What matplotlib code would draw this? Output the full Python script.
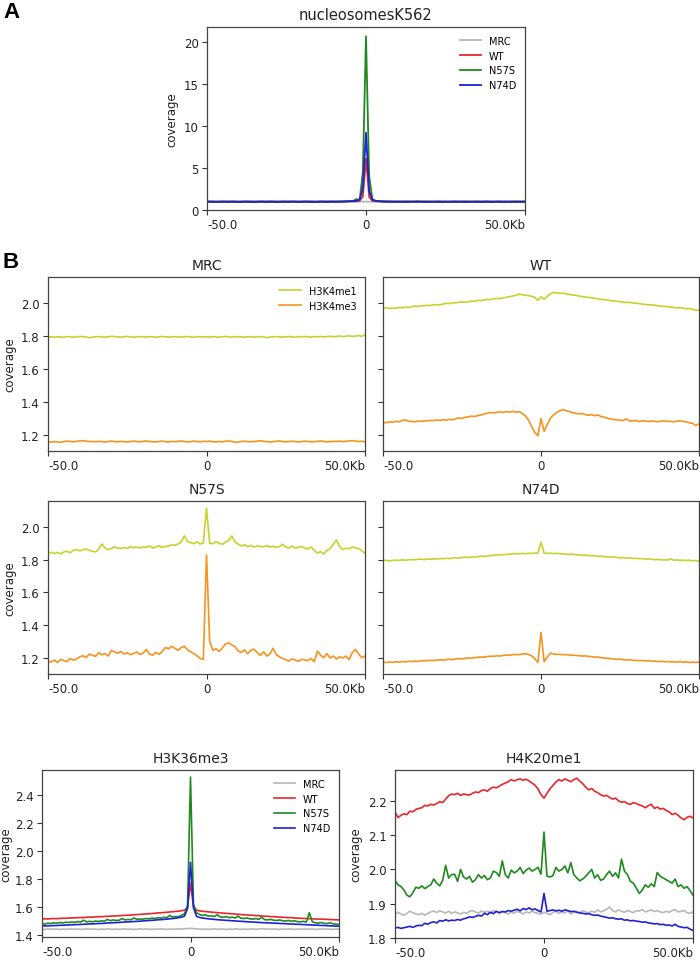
import numpy as np
import matplotlib
matplotlib.use("Agg")
import matplotlib.pyplot as plt

# ---- data: coverage profiles, one value per 1 kb bin from -50 to +50 kb ----
tick_pos = [-50, 0, 50]
tick_labels = ["-50.0", "0", "50.0Kb"]

samples = ["MRC", "WT", "N57S", "N74D"]
marks_b = ["H3K4me1", "H3K4me3"]

# panel A: nucleosomes K562
nuc_mrc = [0.99, 0.98, 0.99, 1.00, 0.99, 0.98, 0.99, 0.99, 1.00, 0.99,
           0.98, 0.99, 1.00, 0.99, 0.98, 0.99, 0.99, 1.00, 0.99, 0.98,
           0.99, 1.00, 0.99, 0.98, 0.99, 0.99, 1.00, 0.99, 0.98, 0.99,
           0.99, 1.00, 0.99, 0.98, 0.99, 0.99, 1.00, 0.99, 0.98, 0.99,
           1.00, 0.99, 0.98, 0.99, 0.99, 1.00, 0.99, 0.98, 0.99, 1.00,
           1.00,
           0.99, 0.98, 0.99, 1.00, 0.99, 0.98, 0.99, 0.99, 1.00, 0.99,
           0.98, 0.99, 1.00, 0.99, 0.98, 0.99, 0.99, 1.00, 0.99, 0.98,
           0.99, 1.00, 0.99, 0.98, 0.99, 0.99, 1.00, 0.99, 0.98, 0.99,
           0.99, 1.00, 0.99, 0.98, 0.99, 0.99, 1.00, 0.99, 0.98, 0.99,
           1.00, 0.99, 0.98, 0.99, 0.99, 1.00, 0.99, 0.98, 0.99, 1.00]
nuc_wt = [1.01, 1.02, 1.01, 1.00, 1.01, 1.02, 1.01, 1.01, 1.02, 1.01,
          1.00, 1.01, 1.02, 1.01, 1.01, 1.00, 1.01, 1.02, 1.01, 1.01,
          1.02, 1.01, 1.00, 1.01, 1.02, 1.01, 1.01, 1.02, 1.01, 1.00,
          1.01, 1.02, 1.01, 1.01, 1.00, 1.01, 1.02, 1.01, 1.01, 1.02,
          1.01, 1.00, 1.01, 1.02, 1.01, 1.02, 1.03, 1.05, 1.10, 1.60,
          6.10,
          1.55, 1.10, 1.05, 1.03, 1.02, 1.01, 1.02, 1.01, 1.00, 1.01,
          1.02, 1.01, 1.01, 1.00, 1.01, 1.02, 1.01, 1.01, 1.02, 1.01,
          1.00, 1.01, 1.02, 1.01, 1.01, 1.00, 1.01, 1.02, 1.01, 1.01,
          1.02, 1.01, 1.00, 1.01, 1.02, 1.01, 1.01, 1.02, 1.01, 1.00,
          1.01, 1.02, 1.01, 1.01, 1.00, 1.01, 1.02, 1.01, 1.01, 1.02]
nuc_n57s = [1.00, 1.01, 1.00, 0.99, 1.00, 1.01, 1.00, 1.00, 1.01, 1.00,
            0.99, 1.00, 1.01, 1.00, 1.00, 0.99, 1.00, 1.01, 1.00, 1.00,
            1.01, 1.00, 0.99, 1.00, 1.01, 1.00, 1.00, 1.01, 1.00, 0.99,
            1.00, 1.01, 1.00, 1.00, 0.99, 1.00, 1.01, 1.00, 1.00, 1.01,
            1.00, 1.01, 1.02, 1.03, 1.05, 1.08, 1.10, 1.30, 1.20, 4.50,
            20.70,
            4.00, 1.30, 1.10, 1.05, 1.03, 1.02, 1.01, 1.00, 1.01, 1.00,
            1.00, 1.01, 1.02, 1.00, 1.01, 1.05, 1.00, 1.00, 1.01, 1.00,
            0.99, 1.00, 1.01, 1.00, 1.00, 0.99, 1.00, 1.01, 1.00, 1.00,
            1.01, 1.00, 0.99, 1.00, 1.01, 1.00, 1.00, 1.01, 1.00, 0.99,
            1.00, 1.01, 1.00, 1.00, 0.99, 1.00, 1.01, 1.00, 1.00, 1.01]
nuc_n74d = [0.97, 0.98, 0.97, 0.96, 0.97, 0.98, 0.97, 0.97, 0.98, 0.97,
            0.96, 0.97, 0.98, 0.97, 0.97, 0.96, 0.97, 0.98, 0.97, 0.97,
            0.98, 0.97, 0.96, 0.97, 0.98, 0.97, 0.97, 0.98, 0.97, 0.96,
            0.97, 0.98, 0.97, 0.97, 0.96, 0.97, 0.98, 0.97, 0.97, 0.98,
            0.97, 0.98, 0.99, 1.00, 1.02, 1.04, 1.06, 1.10, 1.20, 2.60,
            9.20,
            2.30, 1.20, 1.08, 1.04, 1.02, 1.00, 0.99, 0.98, 0.97, 0.98,
            0.97, 0.96, 0.97, 0.98, 0.97, 0.97, 0.98, 0.97, 0.96, 0.97,
            0.98, 0.97, 0.97, 0.96, 0.97, 0.98, 0.97, 0.97, 0.98, 0.97,
            0.96, 0.97, 0.98, 0.97, 0.97, 0.96, 0.97, 0.98, 0.97, 0.97,
            0.98, 0.97, 0.96, 0.97, 0.98, 0.97, 0.97, 0.98, 0.97, 0.96]

# panel B: H3K4me1 / H3K4me3 per sample
mrc_me1 = [1.797, 1.795, 1.793, 1.796, 1.794, 1.792, 1.797, 1.796, 1.794, 1.795,
           1.798, 1.796, 1.795, 1.790, 1.794, 1.796, 1.797, 1.795, 1.793, 1.796,
           1.799, 1.797, 1.795, 1.794, 1.796, 1.798, 1.796, 1.793, 1.795, 1.797,
           1.796, 1.794, 1.797, 1.795, 1.793, 1.796, 1.798, 1.796, 1.794, 1.795,
           1.797, 1.795, 1.794, 1.796, 1.798, 1.795, 1.793, 1.796, 1.797, 1.795,
           1.796,
           1.794, 1.797, 1.795, 1.793, 1.796, 1.798, 1.795, 1.794, 1.797, 1.796,
           1.795, 1.793, 1.797, 1.796, 1.794, 1.795, 1.797, 1.796, 1.790, 1.794,
           1.796, 1.797, 1.795, 1.794, 1.796, 1.798, 1.795, 1.793, 1.797, 1.796,
           1.798, 1.795, 1.794, 1.797, 1.796, 1.798, 1.795, 1.797, 1.799, 1.796,
           1.798, 1.801, 1.797, 1.799, 1.802, 1.798, 1.800, 1.803, 1.799, 1.808]
mrc_me3 = [1.156, 1.154, 1.157, 1.155, 1.153, 1.158, 1.160, 1.158, 1.156, 1.159,
           1.161, 1.163, 1.160, 1.157, 1.158, 1.156, 1.159, 1.157, 1.155, 1.158,
           1.160, 1.158, 1.156, 1.159, 1.157, 1.155, 1.158, 1.160, 1.158, 1.156,
           1.159, 1.161, 1.158, 1.156, 1.155, 1.158, 1.160, 1.157, 1.155, 1.158,
           1.157, 1.159, 1.161, 1.158, 1.155, 1.157, 1.160, 1.158, 1.156, 1.159,
           1.158,
           1.160, 1.157, 1.155, 1.158, 1.156, 1.159, 1.161, 1.159, 1.152, 1.155,
           1.158, 1.160, 1.157, 1.156, 1.158, 1.160, 1.162, 1.159, 1.157, 1.155,
           1.157, 1.159, 1.161, 1.158, 1.156, 1.158, 1.160, 1.157, 1.155, 1.158,
           1.160, 1.158, 1.156, 1.157, 1.159, 1.161, 1.158, 1.156, 1.157, 1.159,
           1.158, 1.160, 1.157, 1.159, 1.161, 1.163, 1.160, 1.158, 1.159, 1.157]
wt_me1 = [1.970, 1.972, 1.968, 1.971, 1.969, 1.975, 1.973, 1.976, 1.974, 1.978,
          1.983, 1.981, 1.985, 1.984, 1.988, 1.986, 1.990, 1.992, 1.990, 1.995,
          2.000, 1.998, 2.003, 2.002, 2.006, 2.008, 2.006, 2.010, 2.013, 2.011,
          2.018, 2.016, 2.020, 2.024, 2.022, 2.027, 2.030, 2.028, 2.033, 2.036,
          2.040, 2.044, 2.048, 2.056, 2.052, 2.050, 2.046, 2.043, 2.036, 2.018,
          2.040,
          2.024, 2.042, 2.058, 2.066, 2.063, 2.060, 2.062, 2.057, 2.054, 2.050,
          2.048, 2.044, 2.041, 2.038, 2.036, 2.033, 2.030, 2.027, 2.024, 2.022,
          2.019, 2.016, 2.014, 2.012, 2.010, 2.007, 2.005, 2.006, 2.002, 2.000,
          1.998, 1.995, 1.993, 1.990, 1.991, 1.988, 1.985, 1.983, 1.981, 1.979,
          1.977, 1.975, 1.972, 1.974, 1.970, 1.966, 1.968, 1.963, 1.957, 1.958]
wt_me3 = [1.275, 1.272, 1.277, 1.276, 1.280, 1.278, 1.285, 1.290, 1.282, 1.280,
          1.278, 1.282, 1.280, 1.284, 1.283, 1.287, 1.285, 1.289, 1.286, 1.291,
          1.288, 1.293, 1.290, 1.296, 1.302, 1.298, 1.305, 1.308, 1.312, 1.310,
          1.316, 1.320, 1.325, 1.330, 1.334, 1.332, 1.336, 1.338, 1.335, 1.340,
          1.337, 1.342, 1.336, 1.340, 1.330, 1.315, 1.290, 1.250, 1.215, 1.192,
          1.298,
          1.220, 1.262, 1.300, 1.320, 1.335, 1.345, 1.352, 1.345, 1.340, 1.333,
          1.330, 1.326, 1.328, 1.322, 1.318, 1.322, 1.315, 1.320, 1.310, 1.306,
          1.300, 1.295, 1.292, 1.290, 1.288, 1.286, 1.295, 1.283, 1.284, 1.286,
          1.280, 1.284, 1.282, 1.279, 1.283, 1.281, 1.278, 1.282, 1.284, 1.280,
          1.281, 1.278, 1.282, 1.284, 1.280, 1.277, 1.272, 1.268, 1.255, 1.266]
n57s_me1 = [1.842, 1.846, 1.838, 1.845, 1.836, 1.848, 1.852, 1.843, 1.858, 1.862,
            1.855, 1.860, 1.866, 1.858, 1.852, 1.848, 1.865, 1.897, 1.872, 1.862,
            1.870, 1.878, 1.872, 1.868, 1.875, 1.869, 1.882, 1.874, 1.878, 1.871,
            1.880, 1.876, 1.885, 1.872, 1.878, 1.887, 1.875, 1.881, 1.884, 1.892,
            1.888, 1.896, 1.908, 1.946, 1.912, 1.905, 1.898, 1.910, 1.896, 1.904,
            2.116,
            1.902, 1.898, 1.912, 1.900, 1.895, 1.908, 1.918, 1.946, 1.910, 1.896,
            1.885, 1.892, 1.880, 1.888, 1.878, 1.885, 1.882, 1.880, 1.886, 1.878,
            1.883, 1.876, 1.880, 1.895, 1.878, 1.872, 1.884, 1.870, 1.878, 1.880,
            1.872, 1.866, 1.878, 1.858, 1.840, 1.850, 1.835, 1.858, 1.868, 1.895,
            1.922, 1.880, 1.862, 1.870, 1.868, 1.878, 1.872, 1.868, 1.856, 1.838]
n57s_me3 = [1.178, 1.174, 1.185, 1.170, 1.190, 1.182, 1.176, 1.195, 1.185, 1.192,
            1.205, 1.212, 1.200, 1.222, 1.215, 1.208, 1.230, 1.218, 1.225, 1.210,
            1.245, 1.235, 1.228, 1.238, 1.222, 1.230, 1.218, 1.226, 1.235, 1.220,
            1.228, 1.250, 1.222, 1.215, 1.232, 1.220, 1.238, 1.262, 1.255, 1.270,
            1.258, 1.245, 1.262, 1.270, 1.248, 1.236, 1.225, 1.212, 1.195, 1.190,
            1.830,
            1.300, 1.245, 1.255, 1.238, 1.260, 1.285, 1.290, 1.278, 1.268, 1.240,
            1.232, 1.248, 1.225, 1.245, 1.252, 1.230, 1.215, 1.236, 1.210, 1.222,
            1.258, 1.220, 1.205, 1.195, 1.188, 1.180, 1.192, 1.185, 1.178, 1.190,
            1.186, 1.182, 1.195, 1.175, 1.240, 1.215, 1.200, 1.225, 1.198, 1.210,
            1.192, 1.205, 1.198, 1.210, 1.188, 1.232, 1.250, 1.222, 1.200, 1.210]
n74d_me1 = [1.795, 1.797, 1.792, 1.796, 1.798, 1.795, 1.800, 1.797, 1.799, 1.801,
            1.800, 1.802, 1.804, 1.801, 1.805, 1.803, 1.806, 1.804, 1.808, 1.806,
            1.809, 1.807, 1.811, 1.813, 1.810, 1.814, 1.816, 1.813, 1.818, 1.816,
            1.819, 1.822, 1.820, 1.823, 1.825, 1.827, 1.829, 1.831, 1.830, 1.833,
            1.834, 1.836, 1.838, 1.836, 1.839, 1.837, 1.840, 1.838, 1.841, 1.839,
            1.908,
            1.841, 1.839, 1.840, 1.838, 1.839, 1.837, 1.836, 1.834, 1.833, 1.834,
            1.831, 1.830, 1.827, 1.828, 1.825, 1.826, 1.823, 1.821, 1.822, 1.819,
            1.818, 1.816, 1.817, 1.814, 1.812, 1.813, 1.810, 1.811, 1.808, 1.809,
            1.806, 1.807, 1.804, 1.805, 1.803, 1.800, 1.802, 1.799, 1.800, 1.798,
            1.806, 1.797, 1.799, 1.796, 1.798, 1.795, 1.797, 1.793, 1.796, 1.790]
n74d_me3 = [1.172, 1.170, 1.174, 1.171, 1.175, 1.173, 1.176, 1.174, 1.178, 1.176,
            1.179, 1.177, 1.180, 1.182, 1.181, 1.184, 1.182, 1.185, 1.187, 1.185,
            1.188, 1.190, 1.188, 1.192, 1.194, 1.193, 1.196, 1.198, 1.196, 1.200,
            1.202, 1.204, 1.203, 1.207, 1.209, 1.208, 1.212, 1.210, 1.214, 1.216,
            1.215, 1.218, 1.220, 1.218, 1.222, 1.224, 1.220, 1.212, 1.195, 1.170,
            1.355,
            1.175, 1.205, 1.228, 1.222, 1.220, 1.221, 1.218, 1.219, 1.216, 1.215,
            1.214, 1.212, 1.210, 1.211, 1.208, 1.206, 1.203, 1.204, 1.200, 1.198,
            1.196, 1.195, 1.192, 1.190, 1.191, 1.188, 1.186, 1.187, 1.184, 1.183,
            1.182, 1.183, 1.180, 1.181, 1.178, 1.179, 1.177, 1.178, 1.175, 1.176,
            1.174, 1.175, 1.173, 1.176, 1.172, 1.174, 1.171, 1.173, 1.170, 1.174]

# H3K36me3
k36_mrc = [1.442, 1.440, 1.443, 1.441, 1.444, 1.442, 1.440, 1.443, 1.441, 1.442,
           1.444, 1.441, 1.443, 1.440, 1.442, 1.444, 1.441, 1.443, 1.442, 1.440,
           1.443, 1.441, 1.444, 1.442, 1.440, 1.443, 1.441, 1.442, 1.444, 1.441,
           1.443, 1.440, 1.442, 1.444, 1.441, 1.443, 1.442, 1.440, 1.443, 1.441,
           1.444, 1.442, 1.440, 1.443, 1.441, 1.442, 1.444, 1.443, 1.445, 1.446,
           1.448,
           1.446, 1.444, 1.442, 1.441, 1.443, 1.440, 1.442, 1.444, 1.441, 1.443,
           1.442, 1.440, 1.443, 1.441, 1.444, 1.442, 1.440, 1.443, 1.441, 1.442,
           1.444, 1.441, 1.443, 1.446, 1.442, 1.444, 1.441, 1.443, 1.442, 1.440,
           1.443, 1.441, 1.444, 1.442, 1.440, 1.443, 1.441, 1.442, 1.444, 1.441,
           1.443, 1.440, 1.442, 1.444, 1.441, 1.443, 1.442, 1.440, 1.443, 1.441]
k36_wt = [1.515, 1.516, 1.515, 1.517, 1.518, 1.517, 1.519, 1.520, 1.520, 1.522,
          1.522, 1.523, 1.524, 1.525, 1.525, 1.527, 1.528, 1.528, 1.530, 1.531,
          1.531, 1.533, 1.534, 1.535, 1.536, 1.537, 1.538, 1.540, 1.541, 1.542,
          1.543, 1.545, 1.546, 1.548, 1.549, 1.551, 1.552, 1.554, 1.556, 1.558,
          1.559, 1.561, 1.563, 1.565, 1.567, 1.569, 1.571, 1.574, 1.578, 1.600,
          1.770,
          1.605, 1.578, 1.573, 1.570, 1.568, 1.566, 1.564, 1.562, 1.560, 1.558,
          1.557, 1.555, 1.553, 1.552, 1.550, 1.548, 1.547, 1.545, 1.544, 1.542,
          1.541, 1.539, 1.538, 1.536, 1.535, 1.534, 1.532, 1.531, 1.530, 1.528,
          1.527, 1.526, 1.525, 1.524, 1.522, 1.521, 1.520, 1.519, 1.518, 1.517,
          1.516, 1.515, 1.514, 1.514, 1.513, 1.512, 1.511, 1.510, 1.509, 1.508]
k36_n57s = [1.483, 1.478, 1.485, 1.482, 1.488, 1.484, 1.490, 1.486, 1.492, 1.489,
            1.494, 1.490, 1.497, 1.493, 1.506, 1.494, 1.498, 1.495, 1.500, 1.497,
            1.502, 1.498, 1.512, 1.503, 1.508, 1.504, 1.506, 1.518, 1.508, 1.511,
            1.509, 1.522, 1.512, 1.515, 1.513, 1.518, 1.516, 1.521, 1.518, 1.524,
            1.521, 1.527, 1.524, 1.540, 1.528, 1.533, 1.531, 1.542, 1.552, 1.610,
            2.530,
            1.620, 1.560, 1.548, 1.540, 1.545, 1.535, 1.538, 1.532, 1.545, 1.530,
            1.527, 1.532, 1.524, 1.528, 1.522, 1.535, 1.520, 1.518, 1.522, 1.516,
            1.514, 1.518, 1.512, 1.527, 1.510, 1.508, 1.512, 1.506, 1.504, 1.508,
            1.502, 1.500, 1.504, 1.498, 1.502, 1.496, 1.494, 1.498, 1.493, 1.560,
            1.495, 1.488, 1.485, 1.490, 1.484, 1.482, 1.487, 1.480, 1.478, 1.476]
k36_n74d = [1.465, 1.466, 1.465, 1.467, 1.468, 1.468, 1.470, 1.470, 1.471, 1.472,
            1.473, 1.474, 1.475, 1.476, 1.477, 1.478, 1.479, 1.480, 1.481, 1.482,
            1.483, 1.484, 1.486, 1.487, 1.488, 1.489, 1.490, 1.492, 1.493, 1.494,
            1.495, 1.497, 1.498, 1.499, 1.501, 1.502, 1.504, 1.505, 1.507, 1.509,
            1.510, 1.512, 1.514, 1.516, 1.518, 1.521, 1.524, 1.528, 1.536, 1.590,
            1.920,
            1.595, 1.535, 1.526, 1.522, 1.519, 1.516, 1.514, 1.512, 1.510, 1.508,
            1.507, 1.505, 1.504, 1.502, 1.501, 1.499, 1.498, 1.497, 1.495, 1.494,
            1.493, 1.492, 1.490, 1.489, 1.488, 1.487, 1.486, 1.485, 1.484, 1.483,
            1.482, 1.481, 1.480, 1.479, 1.478, 1.477, 1.476, 1.475, 1.474, 1.473,
            1.472, 1.471, 1.470, 1.469, 1.468, 1.467, 1.466, 1.465, 1.464, 1.463]

# H4K20me1
k20_mrc = [1.868, 1.875, 1.870, 1.866, 1.872, 1.878, 1.874, 1.870, 1.868, 1.872,
           1.866, 1.872, 1.876, 1.879, 1.874, 1.880, 1.876, 1.873, 1.878, 1.872,
           1.876, 1.873, 1.870, 1.875, 1.872, 1.878, 1.880, 1.876, 1.872, 1.879,
           1.875, 1.878, 1.873, 1.880, 1.876, 1.872, 1.878, 1.874, 1.870, 1.876,
           1.872, 1.878, 1.874, 1.870, 1.876, 1.873, 1.878, 1.874, 1.872, 1.870,
           1.875,
           1.872, 1.868, 1.875, 1.878, 1.872, 1.876, 1.873, 1.879, 1.870, 1.876,
           1.878, 1.874, 1.880, 1.876, 1.873, 1.878, 1.875, 1.882, 1.876, 1.879,
           1.884, 1.890, 1.880, 1.876, 1.882, 1.878, 1.875, 1.880, 1.877, 1.874,
           1.880, 1.878, 1.883, 1.876, 1.879, 1.882, 1.877, 1.880, 1.876, 1.874,
           1.878, 1.875, 1.880, 1.883, 1.876, 1.878, 1.880, 1.874, 1.872, 1.876]
k20_wt = [2.168, 2.151, 2.158, 2.162, 2.160, 2.170, 2.168, 2.175, 2.178, 2.180,
          2.187, 2.185, 2.190, 2.188, 2.192, 2.198, 2.195, 2.205, 2.215, 2.220,
          2.218, 2.222, 2.216, 2.220, 2.218, 2.217, 2.222, 2.226, 2.224, 2.230,
          2.232, 2.228, 2.236, 2.240, 2.238, 2.243, 2.248, 2.252, 2.256, 2.262,
          2.258, 2.262, 2.264, 2.260, 2.263, 2.258, 2.252, 2.245, 2.235, 2.218,
          2.208,
          2.222, 2.235, 2.245, 2.255, 2.262, 2.258, 2.264, 2.260, 2.256, 2.262,
          2.266, 2.258, 2.250, 2.240, 2.232, 2.236, 2.228, 2.224, 2.218, 2.214,
          2.216, 2.210, 2.205, 2.208, 2.200, 2.196, 2.198, 2.192, 2.190, 2.195,
          2.192, 2.188, 2.185, 2.180, 2.186, 2.190, 2.178, 2.182, 2.176, 2.178,
          2.172, 2.168, 2.160, 2.164, 2.158, 2.150, 2.145, 2.152, 2.155, 2.150]
k20_n57s = [1.968, 1.955, 1.950, 1.940, 1.925, 1.920, 1.932, 1.948, 1.945, 1.952,
            1.944, 1.950, 1.955, 1.972, 1.960, 1.952, 1.968, 2.012, 1.975, 1.985,
            1.986, 1.965, 2.000, 1.978, 1.972, 1.980, 1.963, 1.970, 1.985, 1.975,
            1.982, 1.970, 1.975, 1.995, 1.991, 1.980, 2.025, 1.985, 1.975, 1.998,
            1.990, 1.995, 2.006, 1.988, 1.998, 2.004, 1.995, 2.000, 2.006, 1.986,
            2.109,
            1.980, 1.978, 1.982, 2.006, 1.995, 2.000, 2.010, 1.990, 2.020, 1.985,
            1.975, 1.967, 1.972, 1.980, 1.990, 2.000, 1.975, 1.985, 1.968, 1.972,
            1.985, 1.995, 1.980, 1.990, 1.975, 2.030, 1.995, 1.985, 1.965, 1.960,
            1.945, 1.930, 1.940, 1.955, 1.948, 1.958, 1.950, 1.991, 1.980, 1.975,
            1.970, 1.965, 1.960, 1.972, 1.950, 1.955, 1.945, 1.950, 1.938, 1.925]
k20_n74d = [1.829, 1.831, 1.828, 1.830, 1.832, 1.834, 1.831, 1.835, 1.837, 1.836,
            1.843, 1.840, 1.845, 1.847, 1.844, 1.851, 1.849, 1.853, 1.850, 1.852,
            1.851, 1.854, 1.852, 1.856, 1.858, 1.862, 1.860, 1.863, 1.866, 1.864,
            1.872, 1.868, 1.875, 1.871, 1.878, 1.874, 1.877, 1.876, 1.880, 1.878,
            1.881, 1.884, 1.879, 1.886, 1.883, 1.888, 1.882, 1.885, 1.880, 1.876,
            1.930,
            1.878, 1.880, 1.882, 1.879, 1.881, 1.878, 1.882, 1.880, 1.877, 1.878,
            1.875, 1.873, 1.872, 1.870, 1.871, 1.868, 1.866, 1.867, 1.864, 1.862,
            1.860, 1.858, 1.859, 1.856, 1.855, 1.856, 1.852, 1.853, 1.850, 1.851,
            1.849, 1.848, 1.846, 1.847, 1.844, 1.843, 1.841, 1.842, 1.839, 1.840,
            1.837, 1.838, 1.835, 1.840, 1.834, 1.832, 1.830, 1.831, 1.826, 1.822]

sample_colors = ["#b8b8b8", "#e8262b", "#21891f", "#1d22d6"]
mark_colors = ["#c9d12c", "#f7931e"]


def bins(y):
    return np.linspace(-50, 50, len(y))


def style_ax(ax, ylabel=True, labelpad=4):
    ax.set_xlim(-50, 50)
    ax.set_xticks(tick_pos)
    ax.set_xticklabels(tick_labels)
    labs = ax.get_xticklabels()
    labs[0].set_ha("left")
    labs[-1].set_ha("right")
    ax.tick_params(labelsize=8.5, length=3.5, width=0.8, pad=2.5,
                   colors="#333333", labelcolor="#222222")
    for sp in ax.spines.values():
        sp.set_color("#444444")
        sp.set_linewidth(0.9)
    if ylabel:
        ax.set_ylabel("coverage", fontsize=8.5, color="#222222", labelpad=labelpad)


fig = plt.figure(figsize=(7.0, 9.62), dpi=100)
W, H = 700.0, 962.0


def add_ax(left, top, right, bottom, **kw):
    return fig.add_axes([left / W, 1 - bottom / H, (right - left) / W, (bottom - top) / H], **kw)


# ---- panel A ----
axA = add_ax(207, 28, 525, 211)
for name, ys, c in zip(samples, [nuc_mrc, nuc_wt, nuc_n57s, nuc_n74d], sample_colors):
    axA.plot(bins(ys), ys, color=c, lw=1.3, label=name)
axA.set_ylim(0, 21.8)
axA.set_yticks([0, 5, 10, 15, 20])
axA.set_title("nucleosomesK562", fontsize=10.5, color="#222222")
style_ax(axA)
axA.legend(loc="upper right", frameon=False, fontsize=7, handlelength=2.2)

# ---- panel B histone marks ----
grid = [("MRC", mrc_me1, mrc_me3, (48, 278, 365, 452), True),
        ("WT", wt_me1, wt_me3, (383, 278, 699, 452), False),
        ("N57S", n57s_me1, n57s_me3, (48, 502, 365, 675), True),
        ("N74D", n74d_me1, n74d_me3, (383, 502, 699, 675), False)]
for k, (name, me1, me3, box, left_col) in enumerate(grid):
    ax = add_ax(*box)
    ax.plot(bins(me1), me1, color=mark_colors[0], lw=1.2, label=marks_b[0])
    ax.plot(bins(me3), me3, color=mark_colors[1], lw=1.2, label=marks_b[1])
    ax.set_ylim(1.10, 2.16)
    ax.set_yticks([1.2, 1.4, 1.6, 1.8, 2.0])
    ax.set_title(name, fontsize=10, color="#222222")
    style_ax(ax, ylabel=left_col, labelpad=3)
    if not left_col:
        ax.set_yticklabels([])
    if k == 0:
        ax.legend(loc="upper right", frameon=False, fontsize=7, handlelength=2.2)

# ---- bottom row ----
axC = add_ax(42, 771, 339, 938)
for name, ys, c in zip(samples, [k36_mrc, k36_wt, k36_n57s, k36_n74d], sample_colors):
    axC.plot(bins(ys), ys, color=c, lw=1.2, label=name)
axC.set_ylim(1.386, 2.58)
axC.set_yticks([1.4, 1.6, 1.8, 2.0, 2.2, 2.4])
axC.set_title("H3K36me3", fontsize=10, color="#222222")
style_ax(axC, labelpad=1.5)
axC.legend(loc="upper right", frameon=False, fontsize=7, handlelength=2.2)

axD = add_ax(395, 771, 693, 939)
for name, ys, c in zip(samples, [k20_mrc, k20_wt, k20_n57s, k20_n74d], sample_colors):
    axD.plot(bins(ys), ys, color=c, lw=1.2, label=name)
axD.set_ylim(1.80, 2.29)
axD.set_yticks([1.8, 1.9, 2.0, 2.1, 2.2])
axD.set_title("H4K20me1", fontsize=10, color="#222222")
style_ax(axD)

# panel letters
fig.text(3 / W, 1 - 18 / H, "A", fontsize=16, fontweight="bold", family="Liberation Sans")
fig.text(3 / W, 1 - 268 / H, "B", fontsize=16, fontweight="bold", family="Liberation Sans")

fig.savefig("out.png", dpi=100)
